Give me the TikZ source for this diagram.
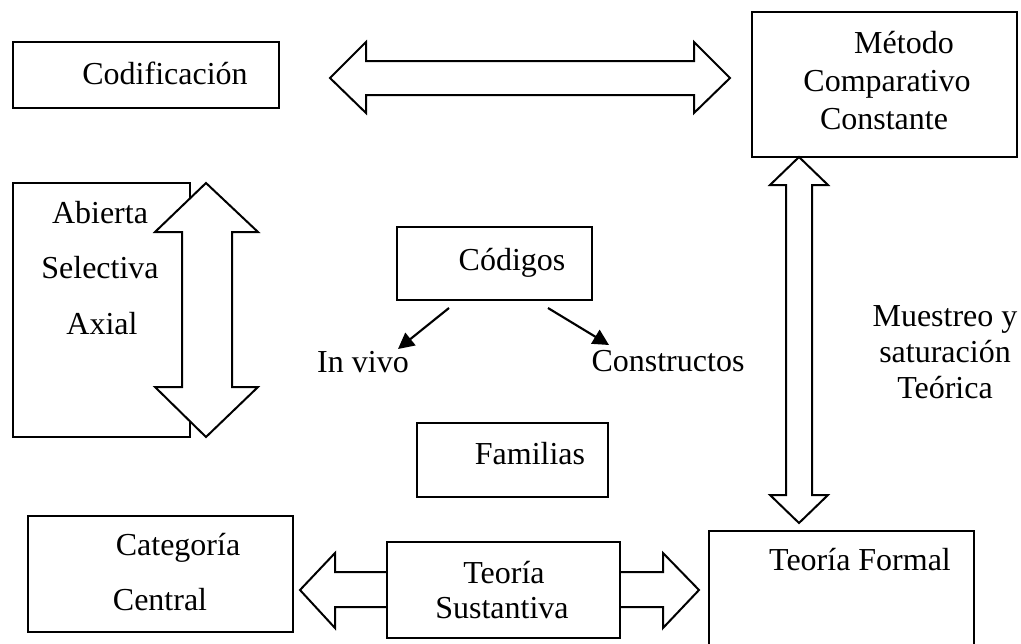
\documentclass[tikz,border=0pt]{standalone}
\usepackage{fontspec}
\setmainfont{Liberation Serif}
\usetikzlibrary{arrows.meta,fit}

\tikzset{
  box/.style={draw, line width=1.6pt, fill=white, inner sep=0pt},
  lbl/.style={anchor=base, inner sep=0pt, font=\fontsize{24}{28}\selectfont},
  blockarrow/.style={draw, line width=1.5pt, fill=white, line join=miter},
  arr/.style={line width=1.6pt, -{Triangle[length=12pt,width=12pt]}}
}

\begin{document}
\begin{tikzpicture}[x=0.75pt,y=-0.75pt]
\useasboundingbox (0,0) rectangle (1021,643);
\clip (0,0) rectangle (1021,643);

% top row
\node[box, fit={(13,42) (279,108)}] (codif) {};
\node[lbl] (codifT) at (165,84) {Codificación};

\node[box, fit={(752,12) (1017,157)}] (metodo) {};
\node[lbl] (metT1) at (904,53) {Método};
\node[lbl] (metT2) at (887,91) {Comparativo};
\node[lbl] (metT3) at (884,129) {Constante};

\draw[blockarrow] (330,78) -- (366,42) -- (366,61) -- (694,61) -- (694,42)
  -- (730,78) -- (694,113) -- (694,95) -- (366,95) -- (366,113) -- cycle;

% coding types with vertical double arrow
\node[box, fit={(13,183) (190,437)}] (tipos) {};
\node[lbl] (tipT1) at (100,223) {Abierta};
\node[lbl] (tipT2) at (100,278) {Selectiva};
\node[lbl] (tipT3) at (102,334) {Axial};
\draw[blockarrow] (206,183) -- (258,232) -- (232,232) -- (232,387) -- (258,387)
  -- (206,437) -- (155,387) -- (182,387) -- (182,232) -- (155,232) -- cycle;

% codes
\node[box, fit={(397,227) (592,300)}] (codigos) {};
\node[lbl] (codigosT) at (512,270) {Códigos};
\node[lbl] (invivo) at (363,372) {In vivo};
\node[lbl] (construct) at (668,371) {Constructos};
\coordinate (a1s) at (449,308);
\coordinate (a1e) at (398,349);
\coordinate (a2s) at (548,308);
\coordinate (a2e) at (609,345);
\draw[arr] (a1s) -- (a1e);
\draw[arr] (a2s) -- (a2e);

\node[box, fit={(417,423) (608,497)}] (familias) {};
\node[lbl] (familiasT) at (530,464) {Familias};

% right column
\draw[blockarrow] (799,157) -- (828,185) -- (812,185) -- (812,495) -- (828,495)
  -- (799,523) -- (770,495) -- (786,495) -- (786,185) -- (770,185) -- cycle;
\node[lbl] (muesT1) at (945,326) {Muestreo y};
\node[lbl] (muesT2) at (945,362) {saturación};
\node[lbl] (muesT3) at (945,398) {Teórica};

% bottom row
\node[box, fit={(28,516) (293,632)}] (categoria) {};
\node[lbl] (catT1) at (178,555) {Categoría};
\node[lbl] (catT2) at (160,610) {Central};

\draw[blockarrow] (300,590) -- (335,553) -- (335,572) -- (663,572) -- (663,553)
  -- (699,590) -- (663,628) -- (663,607) -- (335,607) -- (335,628) -- cycle;
\node[box, fit={(387,542) (620,638)}] (sustantiva) {};
\node[lbl] (susT1) at (504,583) {Teoría};
\node[lbl] (susT2) at (502,618) {Sustantiva};

\node[box, fit={(709,531) (974,680)}] (formal) {};
\node[lbl] (formalT) at (860,570) {Teoría Formal};
\end{tikzpicture}
\end{document}
